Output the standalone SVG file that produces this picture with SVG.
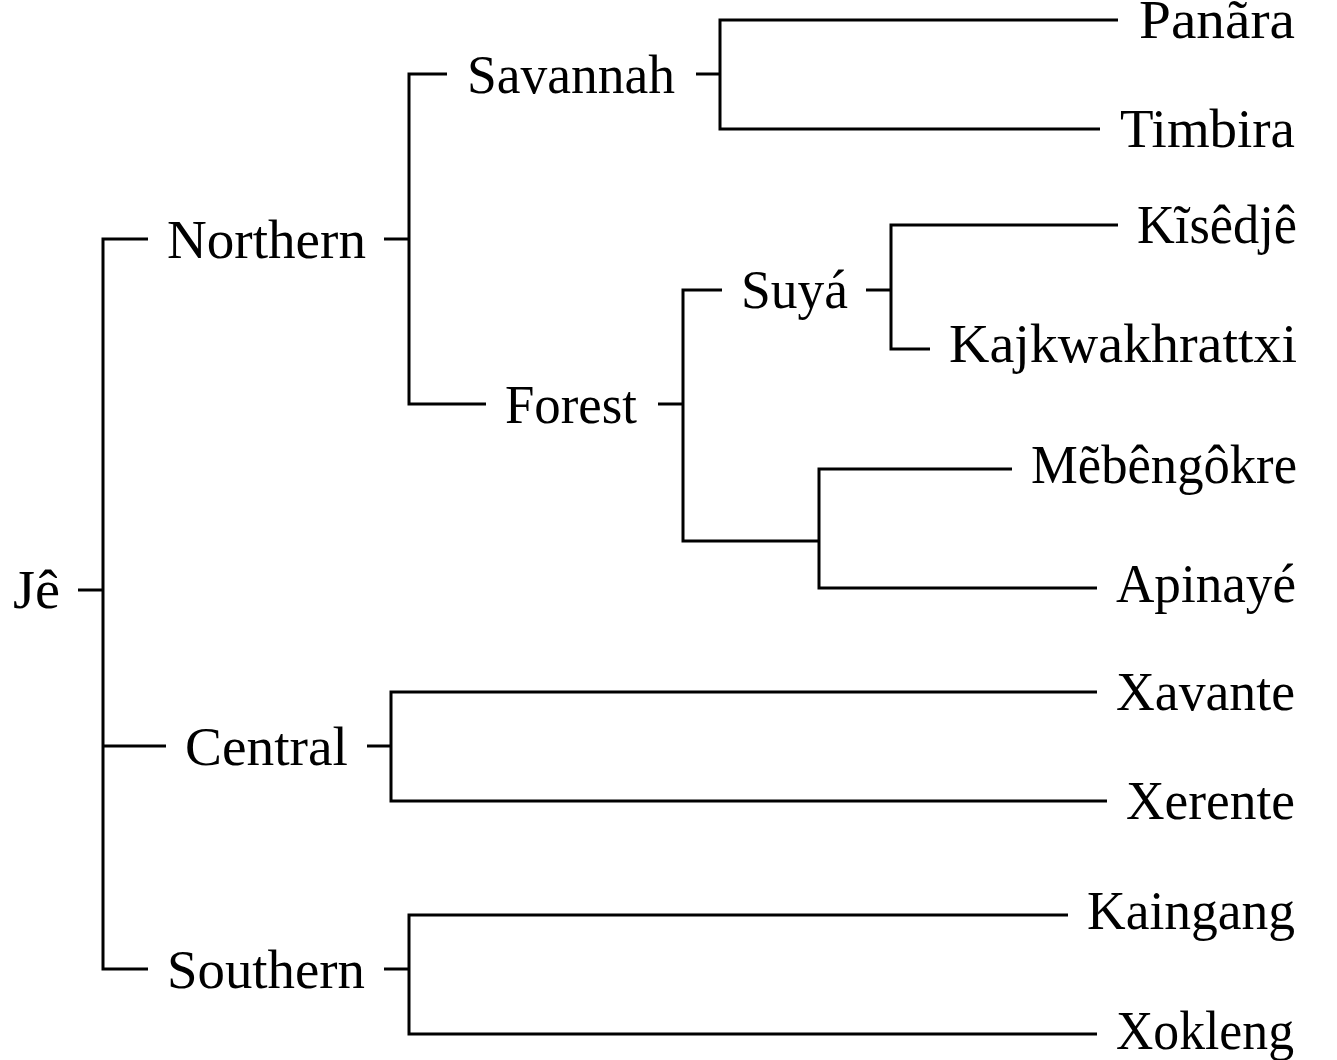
<svg xmlns="http://www.w3.org/2000/svg" width="1337" height="1060" viewBox="0 0 1337 1060">
<style>
text{font-family:"Liberation Serif","Times New Roman",serif;font-size:54px;fill:#000}
.leaf{text-anchor:end}
.mid{text-anchor:middle}
.c{fill:none;stroke:#000;stroke-width:3;stroke-linejoin:miter;stroke-linecap:butt}
</style>
<rect width="1337" height="1060" fill="#fff"/>
<g id="connectors" class="c">
<path d="M78,590H103"/>
<path d="M148,239H103V969H148"/>
<path d="M103,746H166"/>
<path d="M384,239H409"/>
<path d="M447,74H409V404H486"/>
<path d="M696,74H720"/>
<path d="M1118,20H720V129H1100"/>
<path d="M658,404H683"/>
<path d="M722,290H683V541H819"/>
<path d="M866,290H891"/>
<path d="M1118,225H891V349H930"/>
<path d="M1012,469H819V588H1097"/>
<path d="M367,746H391"/>
<path d="M1097,692H391V801H1107"/>
<path d="M384,969H409"/>
<path d="M1068,915H409V1034H1097"/>
</g>
<g id="je"><text x="13" y="608" textLength="47" lengthAdjust="spacingAndGlyphs">Jê</text></g>
<g id="northern"><text x="167" y="258" textLength="199" lengthAdjust="spacingAndGlyphs">Northern</text></g>
<g id="savannah"><text x="467" y="93" textLength="208" lengthAdjust="spacingAndGlyphs">Savannah</text></g>
<g id="forest"><text x="505" y="423" textLength="132" lengthAdjust="spacingAndGlyphs">Forest</text></g>
<g id="suya"><text x="741" y="308" textLength="107" lengthAdjust="spacingAndGlyphs">Suyá</text></g>
<g id="central"><text x="185" y="765" textLength="163" lengthAdjust="spacingAndGlyphs">Central</text></g>
<g id="southern"><text x="167" y="988" textLength="198" lengthAdjust="spacingAndGlyphs">Southern</text></g>
<g id="panara"><text x="1139" y="38" textLength="156" lengthAdjust="spacingAndGlyphs">Panãra</text></g>
<g id="timbira"><text x="1120" y="147" textLength="175" lengthAdjust="spacingAndGlyphs">Timbira</text></g>
<g id="kisedje"><text x="1137" y="243" textLength="160" lengthAdjust="spacingAndGlyphs">Kĩsêdjê</text></g>
<g id="kajkwakhrattxi"><text x="949" y="362" textLength="348" lengthAdjust="spacingAndGlyphs">Kajkwakhrattxi</text></g>
<g id="mebengokre"><text x="1031" y="483" textLength="266" lengthAdjust="spacingAndGlyphs">Mẽbêngôkre</text></g>
<g id="apinaye"><text x="1116" y="602" textLength="180" lengthAdjust="spacingAndGlyphs">Apinayé</text></g>
<g id="xavante"><text x="1116" y="710" textLength="179" lengthAdjust="spacingAndGlyphs">Xavante</text></g>
<g id="xerente"><text x="1126" y="819" textLength="169" lengthAdjust="spacingAndGlyphs">Xerente</text></g>
<g id="kaingang"><text x="1087" y="929" textLength="208" lengthAdjust="spacingAndGlyphs">Kaingang</text></g>
<g id="xokleng"><text x="1116" y="1049" textLength="178" lengthAdjust="spacingAndGlyphs">Xokleng</text></g>
</svg>
